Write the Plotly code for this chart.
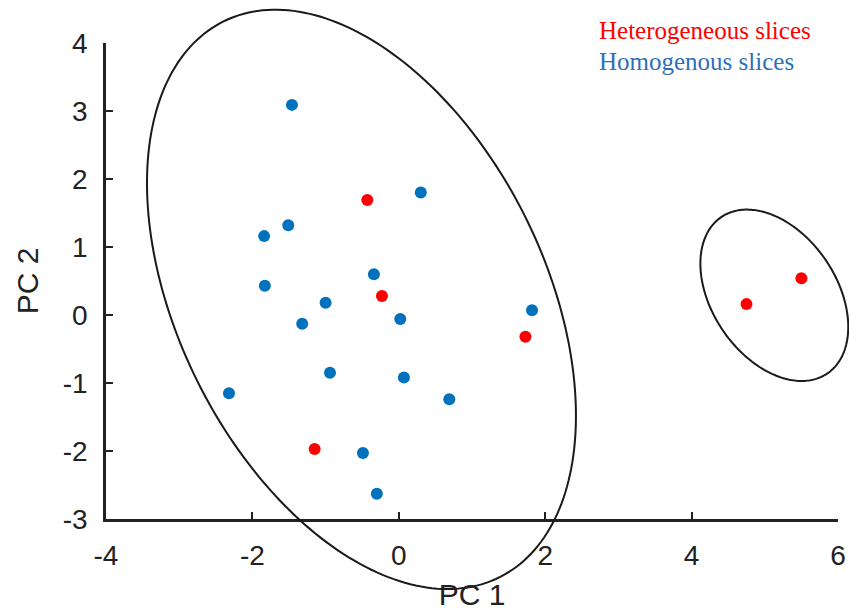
import numpy as np
import plotly.graph_objects as go

# ---- data ----
homo_x = [-1.46, 0.30, -1.51, -1.84, -1.83, -0.34, -1.00, -1.32, 0.02, -0.94, 0.07, 0.69, -2.32, -0.49, -0.30, 1.82]
homo_y = [3.09, 1.80, 1.32, 1.16, 0.43, 0.60, 0.18, -0.13, -0.06, -0.85, -0.92, -1.24, -1.15, -2.03, -2.63, 0.07]

hetero_x = [-0.43, -0.23, 1.73, -1.15, 4.75, 5.50]
hetero_y = [1.69, 0.28, -0.32, -1.97, 0.16, 0.54]

x_ticks = [-4, -2, 0, 2, 4, 6]
y_ticks = [-3, -2, -1, 0, 1, 2, 3, 4]
x_tick_text = ["-4", "-2", "0", "2", "4", "6"]
y_tick_text = ["-3", "-2", "-1", "0", "1", "2", "3", "4"]
X_RANGE = [-4, 6]
Y_RANGE = [-3, 4]

# confidence ellipses: centre, x/y half extents, covariance term
big_ellipse = dict(cx=-0.51, cy=0.23, sx=2.93, sy=4.26, sxy=-5.01)
small_ellipse = dict(cx=5.13, cy=0.29, sx=1.01, sy=1.26, sxy=-0.47)

legend_labels = ["Heterogeneous slices", "Homogenous slices"]

BLUE = "#0072BD"
RED = "#FF0000"
AXIS = "#222222"


def ellipse_path(e):
    t = np.linspace(0, 2 * np.pi, 240)
    cov = np.array([[e["sx"] ** 2, e["sxy"]], [e["sxy"], e["sy"] ** 2]])
    L = np.linalg.cholesky(cov)
    pts = L @ np.vstack([np.cos(t), np.sin(t)])
    x = e["cx"] + pts[0]
    y = e["cy"] + pts[1]
    # map data values to domain fractions (ellipse drawn unclipped, like the original)
    xf = (x - X_RANGE[0]) / (X_RANGE[1] - X_RANGE[0])
    yf = (y - Y_RANGE[0]) / (Y_RANGE[1] - Y_RANGE[0])
    return "M " + " L ".join(f"{a:.5f},{b:.5f}" for a, b in zip(xf, yf)) + " Z"


fig = go.Figure()
fig.add_trace(go.Scatter(x=homo_x, y=homo_y, mode="markers",
                         marker=dict(color=BLUE, size=12), cliponaxis=False,
                         name=legend_labels[1]))
fig.add_trace(go.Scatter(x=hetero_x, y=hetero_y, mode="markers",
                         marker=dict(color=RED, size=12), cliponaxis=False,
                         name=legend_labels[0]))

for e in (big_ellipse, small_ellipse):
    fig.add_shape(type="path", path=ellipse_path(e), xref="paper", yref="paper",
                  line=dict(color="#1a1a1a", width=2), layer="above")

fig.add_annotation(text=legend_labels[0], xref="paper", yref="paper", x=0.6708, y=1.027,
                   xanchor="left", yanchor="middle", showarrow=False,
                   font=dict(family="Liberation Serif", size=25, color=RED))
fig.add_annotation(text=legend_labels[1], xref="paper", yref="paper", x=0.6708, y=0.962,
                   xanchor="left", yanchor="middle", showarrow=False,
                   font=dict(family="Liberation Serif", size=25, color="#2E6FB7"))

axis_common = dict(showline=True, linecolor=AXIS, linewidth=2.5, mirror=False,
                   ticks="inside", ticklen=7, tickwidth=2, tickcolor=AXIS,
                   showgrid=False, zeroline=False, automargin=False,
                   tickfont=dict(family="Liberation Sans", size=28, color=AXIS),
                   title_font=dict(family="Liberation Sans", size=30, color=AXIS))

fig.update_xaxes(range=X_RANGE, tickvals=x_ticks, ticktext=x_tick_text, ticklabelstandoff=10,
                 title=dict(text="PC 1", standoff=14), **axis_common)
fig.update_yaxes(range=Y_RANGE, tickvals=y_ticks, ticktext=y_tick_text, ticklabelstandoff=10,
                 title=dict(text="PC 2", standoff=16), **axis_common)

fig.update_layout(width=849, height=611, showlegend=False,
                  margin=dict(l=106, r=11, t=43, b=92),
                  paper_bgcolor="white", plot_bgcolor="white")

fig.write_html("out.html")
